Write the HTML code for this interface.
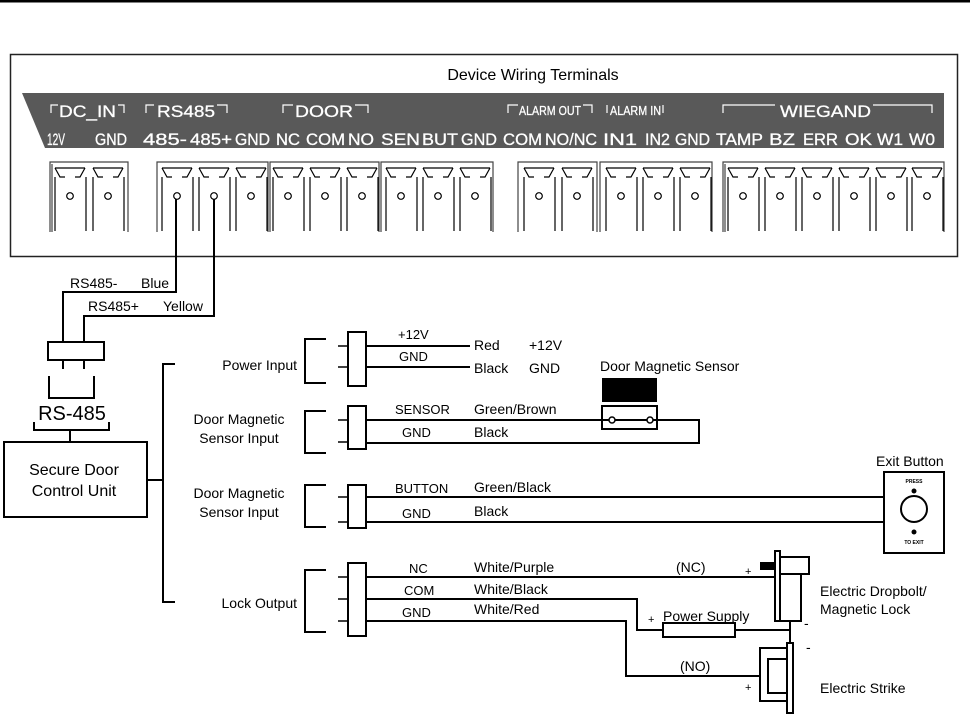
<!DOCTYPE html>
<html><head><meta charset="utf-8"><style>
html,body{margin:0;padding:0;background:#fff;}
svg{display:block;font-family:"Liberation Sans",sans-serif;}
</style></head><body>
<svg width="970" height="715" viewBox="0 0 970 715" xmlns="http://www.w3.org/2000/svg">
<defs>
<g id="pin" fill="none" stroke="#000" stroke-width="1.2">
<path d="M5,168 L35,168"/>
<path d="M5,168 L10,177 L15,177"/>
<path d="M35,168 L30,177 L25,177"/>
<path d="M5,177 L5,231"/>
<path d="M36,177 L36,231"/>
<circle cx="20" cy="196" r="3.3"/>
</g>
</defs>
<rect x="0" y="0" width="970" height="2.5" fill="#000"/>
<rect x="10.5" y="54.5" width="947" height="202" fill="#fff" stroke="#222" stroke-width="1.5"/>
<text x="533" y="80" font-size="16" text-anchor="middle">Device Wiring Terminals</text>
<polygon points="22,93 944,93 944,148 45,148" fill="#595959"/>
<g fill="none" stroke="#fff" stroke-width="1.2">
<path d="M51,113 V105 H58"/><path d="M118,105 H124 V113"/>
<path d="M146,113 V105 H154"/><path d="M217,105 H227 V113"/>
<path d="M283,113 V105 H293"/><path d="M355,105 H368 V113"/>
<path d="M508,113 V105 H518"/><path d="M583,105 H592 V113"/>
<path d="M607,113 V105"/><path d="M663,105 V113"/>
<path d="M723,113 V105 H775"/><path d="M873,105 H932 V113"/>
</g>
<g fill="#fff" font-size="17" stroke="#fff" stroke-width="0.3">
<text x="59" y="117" textLength="57" lengthAdjust="spacingAndGlyphs">DC_IN</text>
<text x="157" y="117" textLength="58" lengthAdjust="spacingAndGlyphs">RS485</text>
<text x="295" y="117" textLength="58" lengthAdjust="spacingAndGlyphs">DOOR</text>
<text x="519" y="115" font-size="13" textLength="62" lengthAdjust="spacingAndGlyphs">ALARM OUT</text>
<text x="610" y="115" font-size="13" textLength="51" lengthAdjust="spacingAndGlyphs">ALARM IN</text>
<text x="780" y="117" textLength="91" lengthAdjust="spacingAndGlyphs">WIEGAND</text>
<text x="47" y="145" textLength="18" lengthAdjust="spacingAndGlyphs">12V</text>
<text x="95" y="145" textLength="32" lengthAdjust="spacingAndGlyphs">GND</text>
<text x="143" y="145" textLength="44" lengthAdjust="spacingAndGlyphs">485-</text>
<text x="190" y="145" textLength="42" lengthAdjust="spacingAndGlyphs">485+</text>
<text x="235" y="145" textLength="35" lengthAdjust="spacingAndGlyphs">GND</text>
<text x="276" y="145" textLength="24" lengthAdjust="spacingAndGlyphs">NC</text>
<text x="306" y="145" textLength="39" lengthAdjust="spacingAndGlyphs">COM</text>
<text x="348" y="145" textLength="26" lengthAdjust="spacingAndGlyphs">NO</text>
<text x="381" y="145" textLength="39" lengthAdjust="spacingAndGlyphs">SEN</text>
<text x="422" y="145" textLength="36" lengthAdjust="spacingAndGlyphs">BUT</text>
<text x="461" y="145" textLength="36" lengthAdjust="spacingAndGlyphs">GND</text>
<text x="503" y="145" textLength="39" lengthAdjust="spacingAndGlyphs">COM</text>
<text x="545" y="145" textLength="52" lengthAdjust="spacingAndGlyphs">NO/NC</text>
<text x="603" y="145" textLength="34" lengthAdjust="spacingAndGlyphs">IN1</text>
<text x="645" y="145" textLength="25" lengthAdjust="spacingAndGlyphs">IN2</text>
<text x="675" y="145" textLength="35" lengthAdjust="spacingAndGlyphs">GND</text>
<text x="716" y="145" textLength="47" lengthAdjust="spacingAndGlyphs">TAMP</text>
<text x="769" y="145" textLength="26" lengthAdjust="spacingAndGlyphs">BZ</text>
<text x="803" y="145" textLength="35" lengthAdjust="spacingAndGlyphs">ERR</text>
<text x="845" y="145" textLength="27" lengthAdjust="spacingAndGlyphs">OK</text>
<text x="877" y="145" textLength="26" lengthAdjust="spacingAndGlyphs">W1</text>
<text x="909" y="145" textLength="26" lengthAdjust="spacingAndGlyphs">W0</text>
</g>
<g fill="none" stroke="#444" stroke-width="1.2">
<path d="M50,232 V162 H128 V232 M52,232 V164"/>
<path d="M157,232 V162 H268 V232"/>
<path d="M270,232 V162 H379 V232"/>
<path d="M381,232 V162 H493 V232"/>
<path d="M518,232 V162 H597 V232"/>
<path d="M600,232 V162 H712 V232"/>
<path d="M723,232 V162 H944 V232 M725,232 V164"/>
</g>
<use href="#pin" x="50"/><use href="#pin" x="88"/>
<use href="#pin" x="157"/><use href="#pin" x="194"/><use href="#pin" x="231"/>
<use href="#pin" x="268"/><use href="#pin" x="305"/><use href="#pin" x="342"/>
<use href="#pin" x="381"/><use href="#pin" x="418"/><use href="#pin" x="455"/>
<use href="#pin" x="519"/><use href="#pin" x="557"/>
<use href="#pin" x="601"/><use href="#pin" x="638"/><use href="#pin" x="675"/>
<use href="#pin" x="723"/><use href="#pin" x="760"/><use href="#pin" x="797"/><use href="#pin" x="834"/><use href="#pin" x="871"/><use href="#pin" x="907"/>

<g fill="none" stroke="#000" stroke-width="2">
<path d="M176,199 V292 H63 V342"/>
<path d="M214,199 V316 H84 V342"/>
<rect x="48" y="342" width="56" height="18"/>
<path d="M63,360 V369 M84,360 V369"/>
<path d="M49,376 V398 H94 V376"/>
<path d="M34,422 V430 H109 V422 M70,430 V442"/>
<rect x="4" y="442" width="143" height="75"/>
<path d="M147,480 H163 M175,364 H163 V602 H175"/>
<path d="M326,339 H305 V383 H326"/>
<path d="M326,411 H305 V453 H326"/>
<path d="M326,485 H305 V527 H326"/>
<path d="M326,570 H305 V632 H326"/>
<rect x="348" y="332" width="18" height="54"/>
<rect x="348" y="406" width="18" height="43"/>
<rect x="348" y="485" width="18" height="43"/>
<rect x="348" y="563" width="18" height="73"/>
<path d="M338,346 H348 M338,367 H348 M338,420 H348 M338,442 H348 M338,497 H348 M338,522 H348 M338,577 H348 M338,599 H348 M338,621 H348" stroke-width="1.5"/>
<path d="M366,346 H470 M366,367 H470"/>
<path d="M366,420 H699 V443 H366"/>
<path d="M366,497 H884 M366,522 H884" />
<path d="M366,577 H775"/>
<path d="M366,599 H637 V630 H663 M735,630 H790"/>
<path d="M366,621 H626 V676 H760"/>
<rect x="663" y="623" width="72" height="14"/>
<rect x="602" y="406" width="55" height="23"/>
<rect x="884" y="472" width="60" height="81"/>
<circle cx="914" cy="509" r="13"/>
<rect x="775" y="551" width="5" height="70"/>
<rect x="780" y="557" width="29" height="17"/>
<path d="M780,574 H801 V621 H780"/>
<path d="M790,621 V643"/>
<rect x="787" y="643" width="6" height="70"/>
<rect x="760" y="648" width="27" height="53"/>
<rect x="768" y="659" width="19" height="34"/>
</g>
<rect x="602" y="378" width="55" height="24" fill="#000"/>
<circle cx="612" cy="420" r="3" fill="#fff" stroke="#000" stroke-width="1.5"/>
<circle cx="650" cy="420" r="3" fill="#fff" stroke="#000" stroke-width="1.5"/>
<circle cx="914" cy="491" r="2.5" fill="#000"/>
<circle cx="914" cy="532" r="2.5" fill="#000"/>
<rect x="760" y="562" width="15" height="8" fill="#000"/>
<text x="914" y="483" font-size="5" text-anchor="middle" font-weight="bold">PRESS</text>
<text x="914" y="544" font-size="5" text-anchor="middle" font-weight="bold">TO EXIT</text>

<g font-size="14" fill="#000">
<text x="70" y="288">RS485-</text><text x="141" y="288">Blue</text>
<text x="88" y="311">RS485+</text><text x="163" y="311">Yellow</text>
<text x="72" y="420" font-size="20" text-anchor="middle">RS-485</text>
<text x="74" y="475" font-size="16" text-anchor="middle">Secure Door</text>
<text x="74" y="496" font-size="16" text-anchor="middle">Control Unit</text>
<text x="297" y="370" text-anchor="end">Power Input</text>
<text x="239" y="424" text-anchor="middle">Door Magnetic</text>
<text x="239" y="443" text-anchor="middle">Sensor Input</text>
<text x="239" y="498" text-anchor="middle">Door Magnetic</text>
<text x="239" y="517" text-anchor="middle">Sensor Input</text>
<text x="297" y="608" text-anchor="end">Lock Output</text>
<text x="398" y="339" font-size="13">+12V</text>
<text x="399" y="361" font-size="13">GND</text>
<text x="474" y="350">Red</text><text x="474" y="373">Black</text>
<text x="529" y="350">+12V</text><text x="529" y="373">GND</text>
<text x="395" y="414" font-size="13">SENSOR</text>
<text x="402" y="437" font-size="13">GND</text>
<text x="474" y="414">Green/Brown</text><text x="474" y="437">Black</text>
<text x="395" y="493" font-size="13">BUTTON</text>
<text x="402" y="518" font-size="13">GND</text>
<text x="474" y="492">Green/Black</text><text x="474" y="516">Black</text>
<text x="409" y="573" font-size="13">NC</text>
<text x="404" y="595" font-size="13">COM</text>
<text x="402" y="617" font-size="13">GND</text>
<text x="474" y="572">White/Purple</text><text x="474" y="594">White/Black</text><text x="474" y="614">White/Red</text>
<text x="600" y="371">Door Magnetic Sensor</text>
<text x="876" y="466">Exit Button</text>
<text x="676" y="572">(NC)</text>
<text x="745" y="575" font-size="11">+</text>
<text x="648" y="623" font-size="11">+</text>
<text x="663" y="621">Power Supply</text>
<text x="680" y="671">(NO)</text>
<text x="745" y="691" font-size="11">+</text>
<text x="804" y="628">-</text>
<text x="806" y="652">-</text>
<text x="820" y="596">Electric Dropbolt/</text>
<text x="820" y="614">Magnetic Lock</text>
<text x="820" y="693">Electric Strike</text>
</g>
</svg>
</body></html>
